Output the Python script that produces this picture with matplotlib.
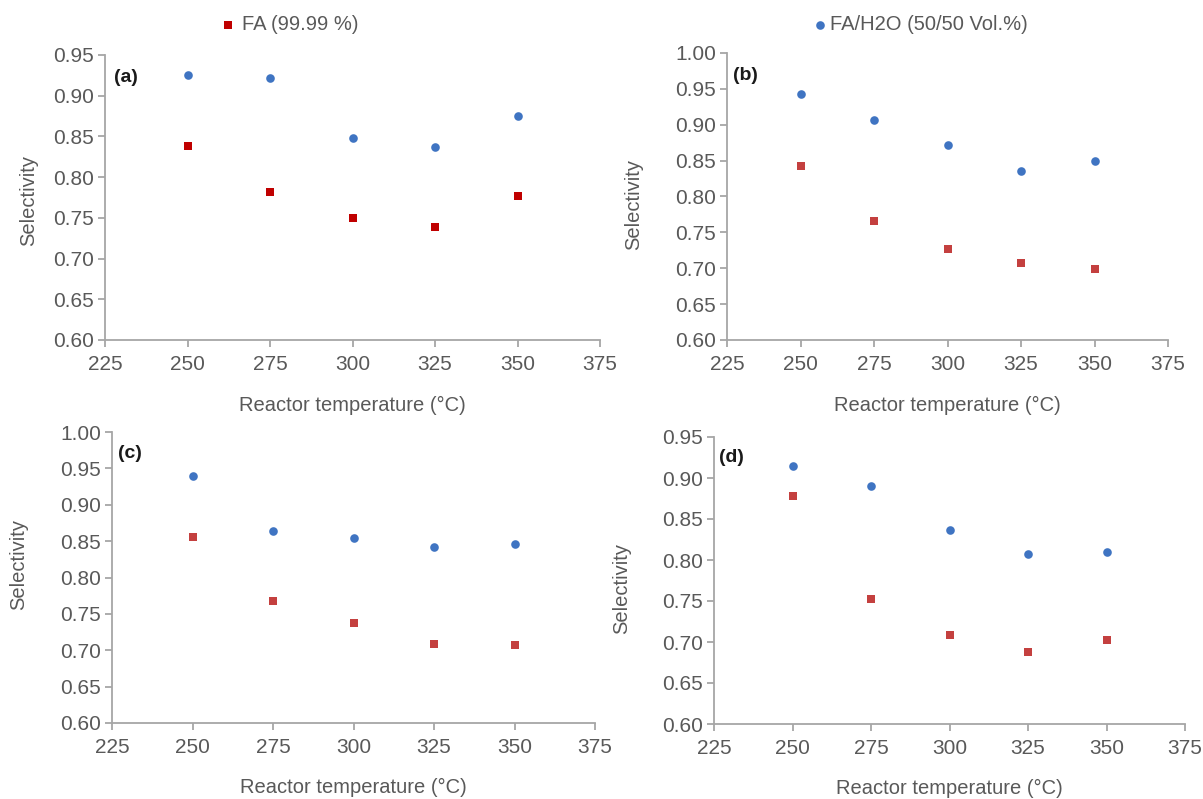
import matplotlib
matplotlib.use("Agg")
import matplotlib.pyplot as plt

plt.rcParams['font.family'] = ['Liberation Sans', 'DejaVu Sans']

temps = [250, 275, 300, 325, 350]

a_blue = [0.925, 0.922, 0.848, 0.837, 0.875]
a_red = [0.838, 0.782, 0.750, 0.739, 0.777]
b_blue = [0.943, 0.907, 0.872, 0.835, 0.850]
b_red = [0.842, 0.766, 0.727, 0.707, 0.699]
c_blue = [0.940, 0.864, 0.854, 0.842, 0.846]
c_red = [0.856, 0.768, 0.737, 0.709, 0.707]
d_blue = [0.915, 0.890, 0.837, 0.807, 0.810]
d_red = [0.878, 0.752, 0.709, 0.688, 0.702]

xticks = [225, 250, 275, 300, 325, 350, 375]
yticks_a = [0.60, 0.65, 0.70, 0.75, 0.80, 0.85, 0.90, 0.95]
yticks_b = [0.60, 0.65, 0.70, 0.75, 0.80, 0.85, 0.90, 0.95, 1.00]

panel_labels = ["(a)", "(b)", "(c)", "(d)"]
xlabel = "Reactor temperature (\u00b0C)"
ylabel = "Selectivity"
legend_red = "FA (99.99 %)"
legend_blue = "FA/H2O (50/50 Vol.%)"

BLUE = "#3f74c2"
RED_A = "#c00000"
RED = "#c4403f"
AXC = "#a6a6a6"
TXT = "#595959"

fig = plt.figure(figsize=(12.03, 7.99), dpi=100)

W, H = 1203, 799
def rect(x0, x1, ytop, ybot):
    return [x0 / W, 1 - ybot / H, (x1 - x0) / W, (ybot - ytop) / H]

specs = [
    (rect(105, 600, 55, 340), a_blue, a_red, RED_A, yticks_a, (0.60, 0.95), (29, 200), (126, 77), 405),
    (rect(727, 1168, 53, 340), b_blue, b_red, RED, yticks_b, (0.60, 1.00), (634, 205), (745, 75), 405),
    (rect(112, 595, 432, 723), c_blue, c_red, RED, yticks_b, (0.60, 1.00), (19, 565), (130, 453), 787),
    (rect(714, 1185, 437, 724), d_blue, d_red, RED, yticks_a, (0.60, 0.95), (622, 588), (731, 458), 788),
]

for i, (r, blue, red, redc, yt, ylim, ylpos, plpos, xly) in enumerate(specs):
    ax = fig.add_axes(r)
    ax.plot(temps, blue, linestyle='none', marker='o', markersize=6.2,
            color=BLUE, markeredgewidth=0, clip_on=False)
    ax.plot(temps, red, linestyle='none', marker='s', markersize=6.0,
            color=redc, markeredgewidth=0, clip_on=False)
    ax.set_xlim(225, 375)
    ax.set_ylim(*ylim)
    ax.set_xticks(xticks)
    ax.set_yticks(yt)
    ax.set_yticklabels([f"{v:.2f}" for v in yt])
    for s in ['top', 'right']:
        ax.spines[s].set_visible(False)
    for s in ['left', 'bottom']:
        ax.spines[s].set_color(AXC)
        ax.spines[s].set_linewidth(1.3)
    ax.tick_params(axis='both', colors=AXC, labelcolor=TXT, labelsize=15,
                   length=5, width=1.3, direction='out')
    ax.tick_params(axis='x', pad=6)
    ax.tick_params(axis='y', pad=3)
    ax.patch.set_alpha(0)
    # y label
    fig.text(ylpos[0] / W, 1 - ylpos[1] / H, ylabel, rotation=90, ha='center',
             va='center', fontsize=14.5, color=TXT)
    # x label
    fig.text((r[0] + r[2] / 2), 1 - xly / H, xlabel, ha='center', va='center',
             fontsize=14.5, color=TXT)
    # panel label
    fig.text(plpos[0] / W, 1 - plpos[1] / H, panel_labels[i], ha='center',
             va='center', fontsize=14, fontweight='bold', color='#1a1a1a')

# legends at top
fig.lines.append(plt.Line2D([228 / W], [1 - 25 / H], marker='s', markersize=6.0,
                            color=RED_A, linestyle='none', markeredgewidth=0,
                            transform=fig.transFigure))
fig.text(242 / W, 1 - 25 / H, legend_red, ha='left', va='center', fontsize=14.5, color=TXT)
fig.lines.append(plt.Line2D([820 / W], [1 - 25 / H], marker='o', markersize=6.2,
                            color=BLUE, linestyle='none', markeredgewidth=0,
                            transform=fig.transFigure))
fig.text(830 / W, 1 - 25 / H, legend_blue, ha='left', va='center', fontsize=14.5, color=TXT)

fig.savefig("out.png", dpi=100, facecolor='white')
